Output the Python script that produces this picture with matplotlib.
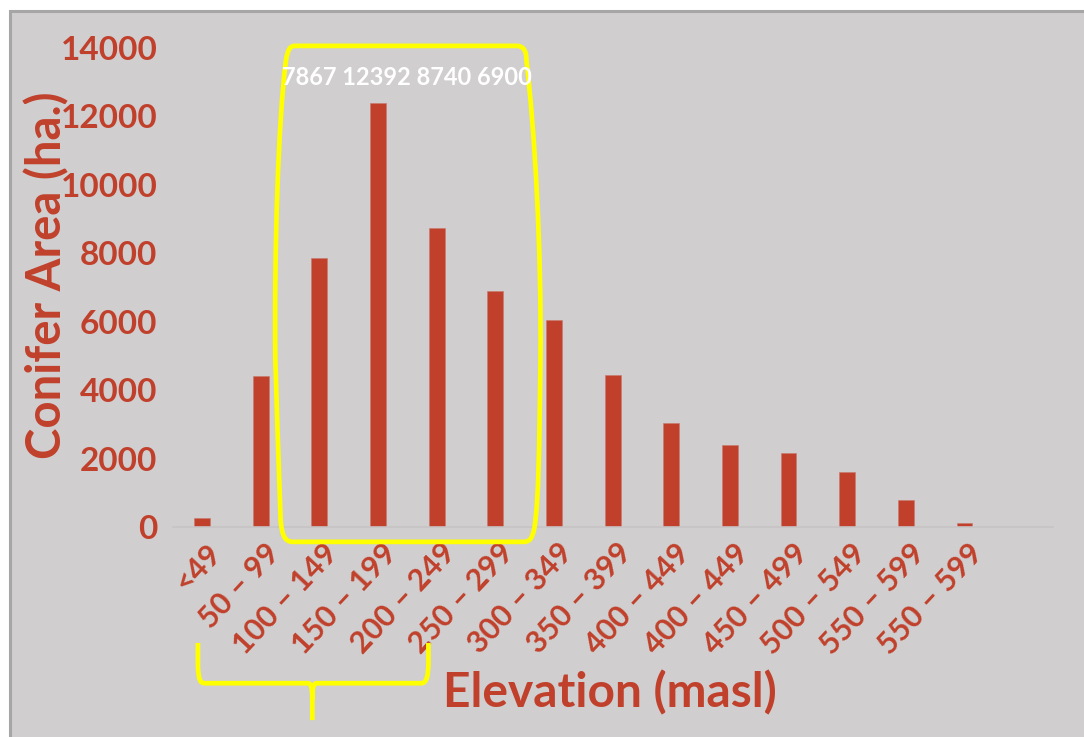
import matplotlib
matplotlib.use("Agg")
import matplotlib.pyplot as plt
import matplotlib.transforms as mtransforms
from matplotlib.patches import Rectangle, PathPatch
from matplotlib.path import Path

# Conifer area per elevation band (ha.)
elevation_bands = ['<49', '50 – 99', '100 – 149', '150 – 199', '200 – 249',
                   '250 – 299', '300 – 349', '350 – 399', '400 – 449',
                   '400 – 449', '450 – 499', '500 – 549', '550 – 599',
                   '550 – 599']
conifer_area = [270, 4420, 7867, 12392, 8740, 6900, 6040, 4430, 3030,
                2395, 2160, 1615, 790, 108]
peak_bands = [2, 3, 4, 5]
y_ticks = [0, 2000, 4000, 6000, 8000, 10000, 12000, 14000]

RED = '#c0402b'
PANEL = '#d0cecf'
YELLOW = '#ffff00'

plt.rcParams['font.family'] = ['Lato', 'DejaVu Sans']

W, H = 1084, 737
fig = plt.figure(figsize=(W / 100, H / 100), dpi=100, facecolor='white')

# grey slide panel with a darker frame on the top and left
panel = Rectangle((9.5 / W, -0.1), 1.2, 1.1 - 10.5 / H, transform=fig.transFigure,
                  facecolor=PANEL, edgecolor='#a6a6a6', linewidth=2.2, zorder=-10)
fig.patches.append(panel)

ax = fig.add_axes([172.7 / W, (H - 527) / H, 879.8 / W, 479.2 / H])
ax.patch.set_alpha(0)

x = list(range(len(elevation_bands)))
ax.bar(x, conifer_area, width=0.27, color=RED, edgecolor='#c9786b', linewidth=0.4)

ax.set_xlim(-0.5, len(elevation_bands) + 0.5)
ax.set_ylim(0, 14000)
ax.set_yticks(y_ticks)
ax.set_yticklabels([str(t) for t in y_ticks], fontsize=24, fontweight='bold', color=RED)
ax.set_xticks(x)
ax.set_xticklabels([])
ax.tick_params(axis='both', length=0)
ax.tick_params(axis='y', pad=11)

# slanted band labels, ending just right of each bar and below the baseline
blend = mtransforms.blended_transform_factory(ax.transData, ax.transAxes)
label_offset = mtransforms.ScaledTranslation(14 / 100, -21 / 100, fig.dpi_scale_trans)
for xi, band in zip(x, elevation_bands):
    ax.text(xi, 0, band, transform=blend + label_offset, rotation=47,
            rotation_mode='anchor', ha='right', va='center',
            fontsize=22, fontweight='bold', color=RED, clip_on=False)

for side in ['left', 'right', 'top']:
    ax.spines[side].set_visible(False)
ax.spines['bottom'].set_color('#c6c4c5')
ax.spines['bottom'].set_linewidth(1.2)

fig.text(47 / W, 1 - 275 / H, 'Conifer Area (ha.)', rotation=90, ha='center', va='center',
         fontsize=34, fontweight='bold', color=RED)
fig.text(610 / W, 1 - 693 / H, 'Elevation (masl)', ha='center', va='center',
         fontsize=34.5, fontweight='bold', color=RED)

# highlight around the peak bands: x in band units, y in axes fraction
M, L, C = Path.MOVETO, Path.LINETO, Path.CURVE4
box_verts = [
    (1.58, 1.004), (5.36, 1.004),
    (5.50, 1.004), (5.53, 0.990), (5.53, 0.975),
    (5.67, 0.83), (5.79, 0.58), (5.77, 0.35),
    (5.75, 0.16), (5.74, 0.06), (5.67, 0.0),
    (5.62, -0.03), (5.57, -0.031), (5.45, -0.031),
    (1.55, -0.031),
    (1.41, -0.031), (1.36, -0.017), (1.34, 0.015),
    (1.30, 0.16), (1.27, 0.26), (1.25, 0.35),
    (1.23, 0.58), (1.30, 0.85), (1.43, 0.973),
    (1.46, 0.998), (1.51, 1.004), (1.58, 1.004),
]
box_codes = [M, L, C, C, C, C, C, C, C, C, C, C, C, C, L,
             C, C, C, C, C, C, C, C, C, C, C, C]
ax.add_patch(PathPatch(Path(box_verts, box_codes), facecolor='none', edgecolor=YELLOW,
                       linewidth=3.4, transform=blend, clip_on=False, zorder=5))

brace_verts = [
    (-0.07, -0.242), (-0.07, -0.29),
    (-0.06, -0.32), (-0.03, -0.326), (0.05, -0.326),
    (1.80, -0.326),
    (1.86, -0.326), (1.88, -0.335), (1.88, -0.36),
    (1.88, -0.403),
    (1.88, -0.36),
    (1.88, -0.335), (1.90, -0.326), (1.96, -0.326),
    (3.74, -0.326),
    (3.83, -0.326), (3.86, -0.31), (3.86, -0.28),
    (3.86, -0.242),
]
brace_codes = [M, L, C, C, C, L, C, C, C, L, M, C, C, C, L, C, C, C, L]
ax.add_patch(PathPatch(Path(brace_verts, brace_codes), facecolor='none', edgecolor=YELLOW,
                       linewidth=3.4, transform=blend, clip_on=False, zorder=5))

peak_text = ' '.join(str(conifer_area[i]) for i in peak_bands)
ax.text(sum(peak_bands) / len(peak_bands), 0.939, peak_text, transform=blend,
        ha='center', va='center', fontsize=17, fontweight='bold', color='white', zorder=6)

fig.savefig('out.png', dpi=100, facecolor='white')
